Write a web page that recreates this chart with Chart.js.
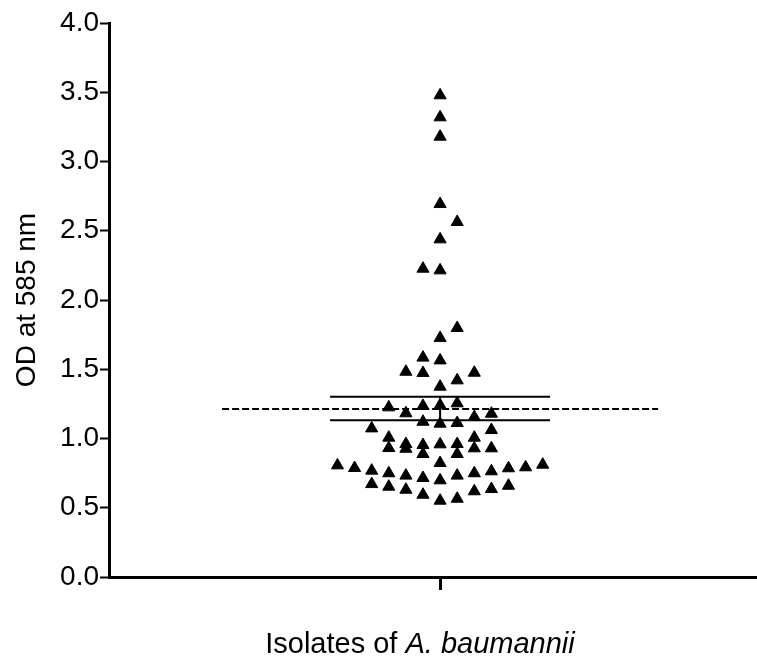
<!DOCTYPE html>
<html>
<head>
<meta charset="utf-8">
<script src="https://cdn.jsdelivr.net/npm/chart.js@4.4.0/dist/chart.umd.min.js"></script>
<style>
  html, body { margin: 0; padding: 0; background: #fff; overflow: hidden; }
  #wrap { width: 757px; height: 667px; }
  canvas { display: block; }
</style>
</head>
<body>
<div id="wrap"><canvas id="grafico" width="757" height="667"></canvas></div>
<script>
// valores OD (un triángulo por aislado)
const valoresOD = [
  3.478, 3.319, 3.179, 2.693, 2.563, 2.438, 2.226, 2.214,
  1.798, 1.726, 1.584, 1.564, 1.482, 1.473, 1.475, 1.420, 1.374,
  1.254, 1.240, 1.235, 1.225, 1.182, 1.179, 1.155, 1.121, 1.112, 1.107, 1.073, 1.061, 1.006, 1.006,
  0.960, 0.960, 0.958, 0.953, 0.931, 0.929, 0.929, 0.926, 0.888, 0.888, 0.823,
  0.806, 0.787, 0.768, 0.749, 0.732, 0.715, 0.698, 0.732, 0.749, 0.763, 0.785, 0.792, 0.811,
  0.671, 0.652, 0.630, 0.594, 0.551, 0.565, 0.619, 0.635, 0.659
];
// columna del "beeswarm" de cada punto (0 = centro)
const columnas = [
  0, 0, 0, 0, 1, 0, -1, 0,
  1, 0, -1, 0, -2, -1, 2, 1, 0,
  1, 0, -1, -3, -2, 3, 2, -1, 1, 0, -4, 3, -3, 2,
  -2, 1, 0, -1, -3, 2, 3, -2, -1, 1, 0,
  -6, -5, -4, -3, -2, -1, 0, 1, 2, 3, 4, 5, 6,
  -4, -3, -2, -1, 0, 1, 2, 3, 4
];
const media = 1.213;
const limiteSup = 1.302;
const limiteInf = 1.131;
const ticksY = [0, 0.5, 1.0, 1.5, 2.0, 2.5, 3.0, 3.5, 4.0];

const fuente = '"Liberation Sans", Arial, Helvetica, sans-serif';

const puntos = valoresOD.map((v, i) => ({ x: columnas[i], y: v }));

// lineas de media y limites, mas el titulo del eje x con cursiva
const lineasMedia = {
  id: 'lineasMedia',
  beforeDatasetsDraw(chart) {
    const { ctx, scales: { x, y } } = chart;
    const cx = x.getPixelForValue(0);
    const anchoSolido = 110;
    const anchoDiscontinuo = 218;
    ctx.save();
    ctx.strokeStyle = '#000';
    ctx.lineWidth = 2;
    [limiteSup, limiteInf].forEach(v => {
      const py = y.getPixelForValue(v);
      ctx.beginPath();
      ctx.moveTo(cx - anchoSolido, py);
      ctx.lineTo(cx + anchoSolido, py);
      ctx.stroke();
    });
    ctx.beginPath();
    ctx.moveTo(cx, y.getPixelForValue(limiteSup));
    ctx.lineTo(cx, y.getPixelForValue(limiteInf));
    ctx.stroke();
    ctx.setLineDash([7, 3]);
    const pm = y.getPixelForValue(media);
    ctx.beginPath();
    ctx.moveTo(cx - anchoDiscontinuo, pm);
    ctx.lineTo(cx + anchoDiscontinuo, pm);
    ctx.stroke();
    ctx.restore();
  },
  afterDraw(chart) {
    const { ctx } = chart;
    const parte1 = 'Isolates of ';
    const parte2 = 'A. baumannii';
    ctx.save();
    ctx.fillStyle = '#000';
    ctx.textBaseline = 'alphabetic';
    ctx.font = '29px ' + fuente;
    const w1 = ctx.measureText(parte1).width;
    ctx.font = 'italic 29px ' + fuente;
    const w2 = ctx.measureText(parte2).width;
    const inicio = 420 - (w1 + w2) / 2;
    ctx.font = '29px ' + fuente;
    ctx.fillText(parte1, inicio, 653);
    ctx.font = 'italic 29px ' + fuente;
    ctx.fillText(parte2, inicio + w1, 653);
    ctx.restore();
  }
};

const ctx = document.getElementById('grafico').getContext('2d');
new Chart(ctx, {
  type: 'scatter',
  data: {
    datasets: [{
      label: 'OD',
      data: puntos,
      pointStyle: 'triangle',
      pointRadius: 7,
      pointBackgroundColor: '#000',
      pointBorderColor: '#000',
      pointBorderWidth: 1,
      showLine: false
    }]
  },
  options: {
    responsive: false,
    animation: false,
    layout: { autoPadding: false, padding: { top: 23, right: 0, left: 0, bottom: 0 } },
    plugins: {
      legend: { display: false },
      tooltip: { enabled: false }
    },
    scales: {
      x: {
        type: 'linear',
        min: -19.36,
        max: 18.53,
        afterBuildTicks: scale => { scale.ticks = [{ value: 0 }]; },
        afterFit: scale => {
          scale.height = 90;
          scale.paddingLeft = 0;
          scale.paddingRight = 0;
        },
        ticks: { display: false },
        grid: {
          drawOnChartArea: false,
          drawTicks: true,
          tickLength: 13,
          tickWidth: 3,
          tickColor: '#000'
        },
        border: { color: '#000', width: 3 }
      },
      y: {
        min: 0,
        max: 4,
        afterBuildTicks: scale => { scale.ticks = ticksY.map(v => ({ value: v })); },
        afterFit: scale => { scale.width = 109; },
        ticks: {
          color: '#000',
          padding: 1,
          font: { family: fuente, size: 28 },
          callback: v => v.toFixed(1)
        },
        grid: {
          drawOnChartArea: false,
          drawTicks: true,
          tickLength: 9,
          tickWidth: 2,
          tickColor: '#000'
        },
        border: { color: '#000', width: 3 },
        title: {
          display: true,
          text: 'OD at 585 nm',
          color: '#000',
          font: { family: fuente, size: 28 },
          padding: { top: 10, bottom: 0 }
        }
      }
    }
  },
  plugins: [lineasMedia]
});
</script>
</body>
</html>
